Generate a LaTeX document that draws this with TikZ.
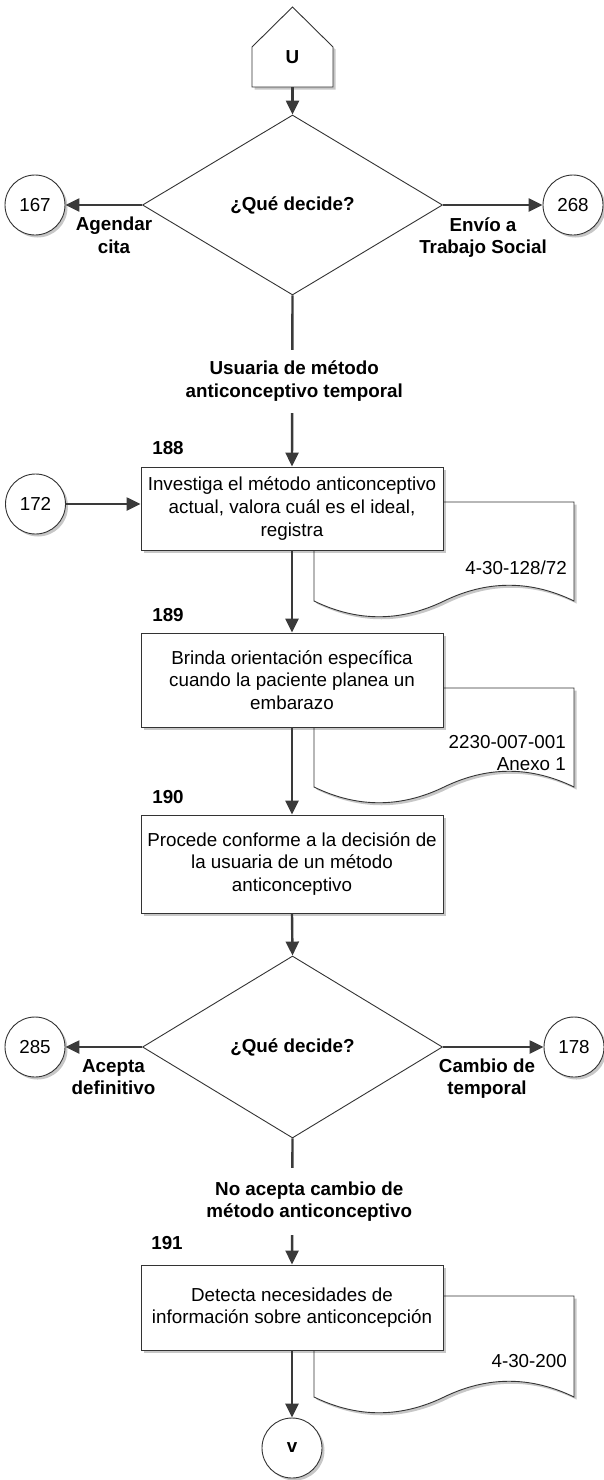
\documentclass[tikz,border=0pt]{standalone}
\usepackage{fontspec}
\setmainfont{Liberation Sans}
\usetikzlibrary{arrows.meta,shapes.geometric,shadows,calc}

\definecolor{inkline}{HTML}{333333}
\definecolor{edgeline}{HTML}{3A3A3A}

\begin{document}
\begin{tikzpicture}[x=1pt,y=-1pt,
  font=\fontsize{18.8}{22.6}\selectfont,
  softshadow/.style={drop shadow={shadow xshift=2.5pt,shadow yshift=-2.5pt,opacity=0.22,fill=black}},
  outline/.style={draw=inkline,line width=0.9pt},
  stepbox/.style={outline,fill=white,softshadow,minimum width=302pt,minimum height=#1,inner sep=0pt,align=center},
  decision/.style={diamond,outline,fill=white,minimum width=300pt,minimum height=180pt,inner sep=0pt,font=\fontsize{18.8}{22.6}\selectfont\bfseries},
  connector/.style={circle,outline,fill=white,softshadow,minimum size=60pt,inner sep=0pt},
  flow/.style={draw=edgeline,line width=2.4pt,-{Triangle[length=14pt,width=13pt]}},
  docshape/.style={outline,fill=white,softshadow},
  boldlabel/.style={font=\fontsize{18.8}{22.6}\selectfont\bfseries,align=center,inner sep=0pt},
  edgelabel/.style={boldlabel,fill=white},
  stepnum/.style={font=\fontsize{18.8}{22.6}\selectfont\bfseries,inner sep=0pt},
  doctext/.style={anchor=east,align=right,inner sep=0pt}
]
\useasboundingbox (0,0) rectangle (603,1480);

% start marker (pentagon pointing up)
\path[outline,fill=white,softshadow] (252,87) -- (333,87) -- (333,47) -- (292.5,7) -- (252,47) -- cycle;
\node[inner sep=0pt,minimum width=81pt,minimum height=60pt,font=\fontsize{18.8}{22.6}\selectfont\bfseries] (U) at (292.5,57) {U};

% reference documents, drawn behind the step boxes
\path[docshape] (314,502) -- (574,502) -- (574,601)
  .. controls (530.7,580) and (487.3,580) .. (444,601)
  .. controls (400.7,622) and (357.3,622) .. (314,601) -- cycle;
\path[docshape] (314,688) -- (574,688) -- (574,787)
  .. controls (530.7,766) and (487.3,766) .. (444,787)
  .. controls (400.7,808) and (357.3,808) .. (314,787) -- cycle;
\path[docshape] (314,1296) -- (574,1296) -- (574,1397)
  .. controls (530.7,1376) and (487.3,1376) .. (444,1397)
  .. controls (400.7,1418) and (357.3,1418) .. (314,1397) -- cycle;
\node[doctext] (t1) at (567,568) {4-30-128/72};
\node[doctext] (t2) at (566,753) {2230-007-001\\Anexo 1};
\node[doctext] (t3) at (567,1361) {4-30-200};

% decisions
\node[decision] (d1) at (292.5,205) {¿Qué decide?};
\node[decision,minimum height=182pt] (d2) at (292.5,1047) {¿Qué decide?};

% off-page connectors
\node[connector] (c167) at (35,205) {167};
\node[connector] (c268) at (573,205) {268};
\node[connector] (c172) at (35.5,504) {172};
\node[connector] (c285) at (35,1047) {285};
\node[connector] (c178) at (574,1047) {178};
\node[connector,font=\fontsize{18.8}{22.6}\selectfont\bfseries] (cv) at (292,1448) {v};

% activity steps
\node[stepbox=83pt] (b188) at (292,508.5) {Investiga el método anticonceptivo\\actual, valora cuál es el ideal,\\registra};
\node[stepbox=94pt] (b189) at (292,680) {Brinda orientación específica\\cuando la paciente planea un\\embarazo};
\node[stepbox=98pt] (b190) at (292,864) {Procede conforme a la decisión de\\la usuaria de un método\\anticonceptivo};
\node[stepbox=85pt] (b191) at (292,1307.5) {Detecta necesidades de\\información sobre anticoncepción};

% step numbers
\node[stepnum] (n188) at (168,448) {188};
\node[stepnum] (n189) at (168,615) {189};
\node[stepnum] (n190) at (168,797) {190};
\node[stepnum] (n191) at (167,1243) {191};

% branch labels
\node[boldlabel] (l167) at (114,235) {Agendar\\cita};
\node[boldlabel] (l268) at (483,237.5) {Envío a\\Trabajo Social};
\node[boldlabel] (l285) at (113.5,1077) {Acepta\\definitivo};
\node[boldlabel] (l178) at (487,1078.5) {Cambio de\\temporal};

% connectors
\draw[flow] (U.south) -- (d1.north);
\draw[flow] (d1.west) -- (c167.east);
\draw[flow] (d1.east) -- (c268.west);
\draw[flow] (d1.south) -- (b188.north)
  node[midway,edgelabel,minimum height=63pt,xshift=2pt] {Usuaria de método\\anticonceptivo temporal};
\draw[flow] (c172.east) -- (b188.west |- c172.east);
\draw[flow] (b188.south) -- (b189.north);
\draw[flow] (b189.south) -- (b190.north);
\draw[flow] (b190.south) -- (d2.north);
\draw[flow] (d2.west) -- (c285.east);
\draw[flow] (d2.east) -- (c178.west);
\draw[flow] (d2.south) -- (b191.north)
  node[midway,edgelabel,minimum height=67pt,xshift=17pt] {No acepta cambio de\\método anticonceptivo};
\draw[flow] (b191.south) -- (cv.north);
\end{tikzpicture}
\end{document}
